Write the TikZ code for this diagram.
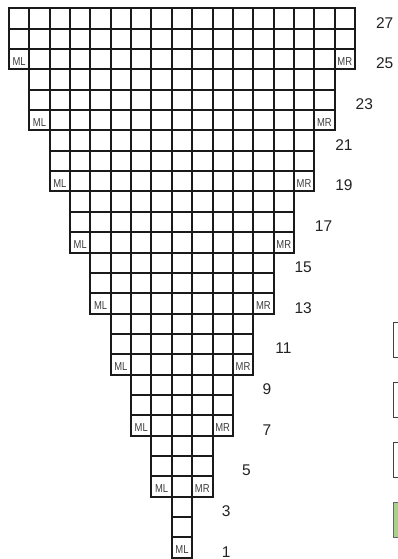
\documentclass[tikz,border=0pt]{standalone}
\usepackage{fontspec}
\setmainfont{Liberation Sans}
\definecolor{gridc}{HTML}{1A1A1A}
\definecolor{lblc}{HTML}{222222}
\definecolor{mtc}{HTML}{3C3C3C}
\definecolor{legg}{HTML}{A9D18E}
\begin{document}
\begin{tikzpicture}[x=1pt,y=-1pt,
  cellbox/.style={draw=gridc,line width=2pt},
  rowlbl/.style={font=\fontsize{15.5}{16}\selectfont,text=lblc,anchor=base east,inner sep=0pt},
  mtag/.style={font=\fontsize{11.5}{12}\selectfont,text=mtc,anchor=base,inner sep=0pt},
  legbox/.style={draw=black!75,line width=1pt,fill=white,minimum width=20pt,minimum height=35pt,anchor=north west,inner sep=0pt},
  leggreen/.style={legbox,fill=legg,draw=black!60}]
\useasboundingbox (0,0) rectangle (397,559);
\def\s{20.35}
% grid cells
\foreach \g in {0,...,8}{
  \pgfmathtruncatemacro\last{16-\g}
  \foreach \k in {0,1,2}{
    \foreach \c in {\g,...,\last}{
      \draw[cellbox] ({9+\c*\s},{8.3+(3*\g+\k)*\s}) rectangle ++(\s,\s);
    }
  }
}
% ML / MR tags
\foreach \g in {0,...,8}{
  \node[mtag] (ml\g) at ({9+(\g+0.5)*\s},{8.3+(3*\g+3)*\s-4}) {\scalebox{0.82}[1]{ML}};
}
\foreach \g in {0,...,7}{
  \node[mtag] (mr\g) at ({9+(16-\g+0.5)*\s},{8.3+(3*\g+3)*\s-4}) {\scalebox{0.82}[1]{MR}};
}
% row numbers
\foreach \r in {1,3,...,27}{
  \pgfmathtruncatemacro\gg{floor((27-\r)/3)}
  \node[rowlbl] (row\r) at ({9+(17-\gg)*\s+38.5},{8.3+(28-\r)*\s-0.5}) {\r};
}
% legend boxes (cut off at right edge)
\node[legbox] (leg1) at (393,322) {};
\node[legbox] (leg2) at (393,382) {};
\node[legbox] (leg3) at (393,442) {};
\node[leggreen] (leg4) at (393,502) {};
\end{tikzpicture}
\end{document}
